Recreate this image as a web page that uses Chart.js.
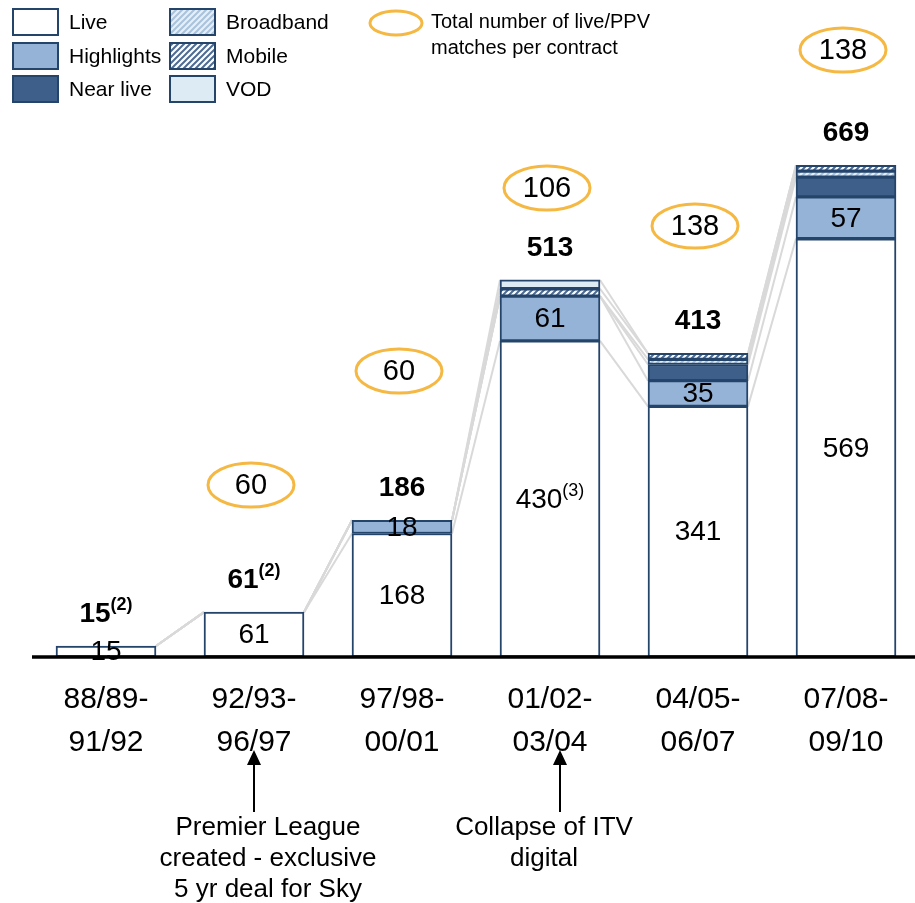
<!DOCTYPE html>
<html>
<head>
<meta charset="utf-8">
<title>Matches per contract</title>
<script src="https://cdn.jsdelivr.net/npm/chart.js@4.4.0/dist/chart.umd.min.js"></script>
<style>
  html, body { margin: 0; padding: 0; background: #fff; overflow: hidden; }
  canvas { display: block; }
</style>
</head>
<body>
<canvas id="chart" width="920" height="903"></canvas>
<script>
"use strict";

var $ = function(id) {
  return document.getElementById(id);
};

// contract periods (two lines each)
var periods = [
  ["88/89-", "91/92"],
  ["92/93-", "96/97"],
  ["97/98-", "00/01"],
  ["01/02-", "03/04"],
  ["04/05-", "06/07"],
  ["07/08-", "09/10"]
];

// hours / matches by type, stacked bottom to top
var live       = [15, 61, 168, 430, 341, 569];
var highlights = [0, 0, 18, 61, 35, 57];
var nearLive   = [0, 0, 0, 0, 22, 27];
var broadband  = [0, 0, 0, 0, 7, 8];
var mobile     = [0, 0, 0, 10, 8, 8];
var vod        = [0, 0, 0, 12, 0, 0];

var totalNotes = ["(2)", "(2)", "", "", "", ""];
var liveNotes  = ["", "", "", "(3)", "", ""];

// live/PPV matches per contract (orange ovals)
var contractMatches = [null, 60, 60, 106, 138, 138];
var ovalY = [null, 485, 371, 188, 226, 50];

var events = [
  { at: 1, lines: ["Premier League", "created - exclusive", "5 yr deal for Sky"] },
  { at: 3, lines: ["Collapse of ITV", "digital"] }
];

var FONT = '"Liberation Sans", Arial, Helvetica, sans-serif';
var EDGE = "#24446A";
var ORANGE = "#F5B843";

function hatch(bg, fg) {
  var s = 6;
  var c = document.createElement("canvas");
  c.width = s; c.height = s;
  var g = c.getContext("2d");
  g.fillStyle = bg;
  g.fillRect(0, 0, s, s);
  g.strokeStyle = fg;
  g.lineWidth = 2;
  g.beginPath();
  g.moveTo(-1, s + 1); g.lineTo(s + 1, -1);
  g.moveTo(-1, 1); g.lineTo(1, -1);
  g.moveTo(s - 1, s + 1); g.lineTo(s + 1, s - 1);
  g.stroke();
  return $("chart").getContext("2d").createPattern(c, "repeat");
}

var broadbandFill = hatch("#E6EFF7", "#A8C3DD");
var mobileFill = hatch("#FFFFFF", "#4C6C95");

var series = [
  { label: "Live",      values: live,       fill: "#FFFFFF" },
  { label: "Highlights",values: highlights, fill: "#95B3D7" },
  { label: "Near live", values: nearLive,   fill: "#3E5F8A" },
  { label: "Broadband", values: broadband,  fill: broadbandFill },
  { label: "Mobile",    values: mobile,     fill: mobileFill },
  { label: "VOD",       values: vod,        fill: "#DDEBF4" }
];

function totals() {
  var t = [];
  for (var j = 0; j < live.length; j++) {
    var s = 0;
    for (var k = 0; k < series.length; k++) s += series[k].values[j];
    t.push(s);
  }
  return t;
}

// text with a raised note such as "(2)"
function drawWithNote(ctx, text, note, cx, cy, font, noteFont, rise) {
  ctx.font = font;
  var w1 = ctx.measureText(text).width;
  ctx.font = noteFont;
  var w2 = note ? ctx.measureText(note).width : 0;
  var x = cx - (w1 + w2) / 2;
  ctx.textAlign = "left";
  ctx.textBaseline = "middle";
  ctx.font = font;
  ctx.fillText(text, x, cy);
  if (note) {
    ctx.font = noteFont;
    ctx.fillText(note, x + w1, cy - rise);
  }
}

var extras = {
  id: "extras",
  beforeDatasetsDraw: function(chart) {
    // grey lines joining the segment edges of neighbouring bars
    var ctx = chart.ctx;
    var y = chart.scales.y;
    var m0 = chart.getDatasetMeta(0).data;
    ctx.save();
    ctx.strokeStyle = "#D9D9D9";
    ctx.lineWidth = 2;
    for (var j = 0; j < live.length - 1; j++) {
      var a = 0, b = 0;
      var xr = m0[j].x + 50, xl = m0[j + 1].x - 50;
      for (var k = 0; k < series.length; k++) {
        a += series[k].values[j];
        b += series[k].values[j + 1];
        ctx.beginPath();
        ctx.moveTo(xr, y.getPixelForValue(a));
        ctx.lineTo(xl, y.getPixelForValue(b));
        ctx.stroke();
      }
    }
    ctx.restore();
  },
  afterDatasetsDraw: function(chart) {
    var ctx = chart.ctx;
    var yScale = chart.scales.y;
    var tot = totals();
    ctx.save();
    ctx.fillStyle = "#000";

    // values inside live and highlights segments
    var live0 = chart.getDatasetMeta(0).data;
    var hl = chart.getDatasetMeta(1).data;
    for (var j = 0; j < live.length; j++) {
      var el = live0[j];
      drawWithNote(ctx, String(live[j]), liveNotes[j], el.x, (el.y + el.base) / 2 + 1,
        "28px " + FONT, "18px " + FONT, 9);
      if (highlights[j]) {
        var h = hl[j];
        drawWithNote(ctx, String(highlights[j]), "", h.x, (h.y + h.base) / 2 + 1,
          "28px " + FONT, "18px " + FONT, 0);
      }
      // bold totals above each bar
      var top = yScale.getPixelForValue(tot[j]);
      drawWithNote(ctx, String(tot[j]), totalNotes[j], el.x, top - 32,
        "bold 28px " + FONT, "bold 18px " + FONT, 9);
    }

    // x axis
    var area = chart.chartArea;
    var base = yScale.getPixelForValue(0);
    ctx.strokeStyle = "#000";
    ctx.lineWidth = 3.5;
    ctx.beginPath();
    ctx.moveTo(area.left, base);
    ctx.lineTo(area.right, base);
    ctx.stroke();

    // period labels
    ctx.font = "30px " + FONT;
    ctx.textAlign = "center";
    ctx.textBaseline = "middle";
    for (var i = 0; i < periods.length; i++) {
      ctx.fillText(periods[i][0], live0[i].x, base + 43);
      ctx.fillText(periods[i][1], live0[i].x, base + 86);
    }

    // orange ovals
    ctx.strokeStyle = ORANGE;
    ctx.lineWidth = 3;
    ctx.font = "29px " + FONT;
    for (var n = 0; n < contractMatches.length; n++) {
      if (contractMatches[n] == null) continue;
      var cx = live0[n].x - 3;
      ctx.beginPath();
      ctx.ellipse(cx, ovalY[n], 43, 22, 0, 0, Math.PI * 2);
      ctx.stroke();
      ctx.fillText(String(contractMatches[n]), cx, ovalY[n] + 1);
    }

    // events with arrows
    var shift = { 1: 14, 3: -6 };
    var arrowShift = { 1: 0, 3: 10 };
    ctx.font = "26px " + FONT;
    ctx.strokeStyle = "#000";
    ctx.lineWidth = 2;
    events.forEach(function(ev) {
      var ax = live0[ev.at].x + arrowShift[ev.at];
      ctx.beginPath();
      ctx.moveTo(ax, base + 155);
      ctx.lineTo(ax, base + 105);
      ctx.stroke();
      ctx.beginPath();
      ctx.moveTo(ax, base + 93);
      ctx.lineTo(ax - 7, base + 108);
      ctx.lineTo(ax + 7, base + 108);
      ctx.closePath();
      ctx.fill();
      var tx = live0[ev.at].x + shift[ev.at];
      ev.lines.forEach(function(line, k) {
        ctx.fillText(line, tx, base + 171 + k * 31);
      });
    });
    ctx.restore();
  },
  afterDraw: function(chart) {
    // legend
    var ctx = chart.ctx;
    ctx.save();
    var cols = [13, 170];
    var rows = [9, 43, 76];
    ctx.font = "21px " + FONT;
    ctx.textAlign = "left";
    ctx.textBaseline = "middle";
    for (var k = 0; k < series.length; k++) {
      var bx = cols[Math.floor(k / 3)];
      var by = rows[k % 3];
      ctx.fillStyle = series[k].fill;
      ctx.fillRect(bx, by, 45, 26);
      ctx.strokeStyle = EDGE;
      ctx.lineWidth = 2;
      ctx.strokeRect(bx, by, 45, 26);
      ctx.fillStyle = "#000";
      ctx.fillText(series[k].label, bx + 56, by + 14);
    }
    ctx.strokeStyle = ORANGE;
    ctx.lineWidth = 3;
    ctx.beginPath();
    ctx.ellipse(396, 23, 26, 12, 0, 0, Math.PI * 2);
    ctx.stroke();
    ctx.font = "20px " + FONT;
    ctx.fillText("Total number of live/PPV", 431, 22);
    ctx.fillText("matches per contract", 431, 48);
    ctx.restore();
  }
};

var labels = periods.map(function(p) { return p.join(" "); });

var datasets = series.map(function(s) {
  return {
    label: s.label,
    data: s.values.map(function(v) { return v ? v : null; }),
    backgroundColor: s.fill,
    borderColor: EDGE,
    borderWidth: 2,
    borderSkipped: false,
    barThickness: 100
  };
});

window.onload = function() {
  new Chart($("chart").getContext("2d"), {
    type: "bar",
    data: { labels: labels, datasets: datasets },
    options: {
      responsive: false,
      animation: false,
      devicePixelRatio: 1,
      layout: { padding: { left: 32, right: 0, top: 69, bottom: 246 } },
      plugins: {
        legend: { display: false },
        tooltip: { enabled: false }
      },
      scales: {
        x: { stacked: true, display: false, offset: true },
        y: { stacked: true, display: false, min: 0, max: 800 }
      }
    },
    plugins: [extras]
  });
};
</script>
</body>
</html>
